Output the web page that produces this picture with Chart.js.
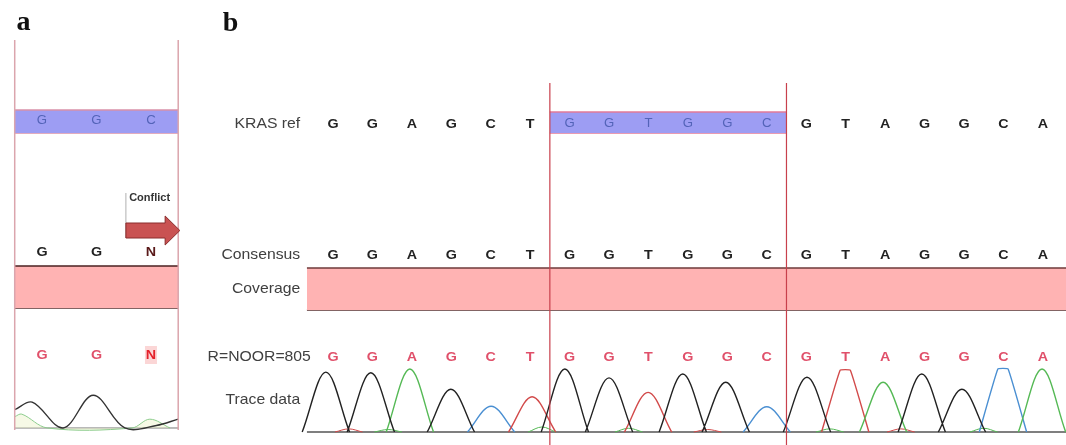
<!DOCTYPE html>
<html>
<head>
<meta charset="utf-8">
<script src="https://cdn.jsdelivr.net/npm/chart.js@4"></script>
<style>
  html, body { margin: 0; padding: 0; background: #fff; }
  #wrap { width: 1066px; height: 445px; }
</style>
</head>
<body>
<div id="wrap"><canvas id="chart" width="1066" height="445"></canvas></div>
<script>
// panel a: the three bases around the conflict
const refSeqA = ['G', 'G', 'C'];
const consSeqA = ['G', 'G', 'N'];
const readSeqA = ['G', 'G', 'N'];

// panel b: KRAS stretch, codons 12/13 boxed
const refSeqB = ['G','G','A','G','C','T','G','G','T','G','G','C','G','T','A','G','G','C','A'];
const consSeqB = ['G','G','A','G','C','T','G','G','T','G','G','C','G','T','A','G','G','C','A'];
const readSeqB = ['G','G','A','G','C','T','G','G','T','G','G','C','G','T','A','G','G','C','A'];
const codonFirst = 6;
const codonLast = 11;

const rowLabels = ['KRAS ref', 'Consensus', 'Coverage', 'R=NOOR=805', 'Trace data'];

// trace peaks of panel b (position in bases, height in signal units)
const peakPosB = [-0.18, 0.96, 1.95, 2.99, 4.01, 5.05, 5.88, 7.0, 7.99, 8.87, 9.96, 11.0, 12.02, 12.99, 13.95, 14.93, 15.95, 16.99, 17.98];
const peakHeightB = [95, 94, 100, 68, 41, 56, 100, 86, 63, 92, 79, 40, 87, 98, 79, 92, 68, 100, 100];
const flatTopB = [13, 17]; // clipped peaks

// small background humps of panel b
const noisePosB = [0.4, 1.4, 5.3, 7.5, 9.5, 12.6, 14.4, 16.5];
const noiseHeightB = [5, 4, 8, 6, 4, 5, 5, 6];
const noiseBaseB = ['T', 'A', 'A', 'A', 'T', 'A', 'T', 'A'];

// panel a traces
const traceAx = [-0.5, -0.18, 0.39, 0.94, 1.52, 2.1, 2.5];
const traceAy = [29, 41, 0, 52, 0, 4, 14];
const greenAx = [-0.5, -0.37, 0.1, 1.65, 1.98, 2.35];
const greenAy = [18, 22, 0, 0, 14, 0];

const baseColors = { G: '#222222', A: '#55b955', T: '#d24a4a', C: '#4a8fd2' };

// layout of the tracks (row axis runs top to bottom)
const layout = {
  refA: 121, refTopA: 110, refBotA: 133,
  consA: 252, covTopA: 266, covBotA: 308,
  readA: 355, frameTopA: 40, frameBotA: 430,
  refB: 124, refTopB: 112, refBotB: 133,
  consB: 255, covTopB: 268, covBotB: 310, covLeftB: -0.66,
  readB: 357, traceLbl: 400, lineTopB: 83, lineBotB: 445,
  labelX: -0.83, readLabelX: -0.56
};

const FONT = '"Liberation Sans", Arial, sans-serif';

function pts(xs, ys) { return xs.map((x, i) => ({ x: x, y: ys[i] })); }

function peakPoints(indices, flat) {
  const out = [];
  indices.forEach(i => {
    const p = peakPosB[i], h = peakHeightB[i];
    out.push({ x: p - 0.6, y: 0 });
    if (flat) {
      out.push({ x: p - 0.13, y: h });
      out.push({ x: p + 0.13, y: h });
    } else {
      out.push({ x: p, y: h });
    }
    out.push({ x: p + 0.6, y: 0 });
    out.push({ x: p + 0.6, y: null });
  });
  return out;
}

function noisePoints(base) {
  const out = [];
  noisePosB.forEach((p, i) => {
    if (noiseBaseB[i] !== base) return;
    out.push({ x: p - 0.35, y: 0 }, { x: p, y: noiseHeightB[i] }, { x: p + 0.35, y: 0 }, { x: p + 0.35, y: null });
  });
  return out;
}

const datasets = [];

function addLine(data, xId, yId, color, width, extra) {
  datasets.push(Object.assign({
    type: 'line', data: data, xAxisID: xId, yAxisID: yId,
    borderColor: color, borderWidth: width, pointRadius: 0,
    fill: false, tension: 0, order: 1
  }, extra || {}));
}

// panel b traces
['G', 'A', 'T', 'C'].forEach(b => {
  const normal = [], flat = [];
  readSeqB.forEach((s, i) => {
    if (s !== b) return;
    (flatTopB.includes(i) ? flat : normal).push(i);
  });
  addLine(peakPoints(normal, false), 'xb', 'sigB', baseColors[b], 1.4, { tension: 0.35 });
  if (flat.length) addLine(peakPoints(flat, true), 'xb', 'sigB', baseColors[b], 1.4, { tension: 0.1 });
  addLine(noisePoints(b), 'xb', 'sigB', baseColors[b], 1, { tension: 0.35, order: 2 });
});
addLine(pts([layout.covLeftB, 18.6], [0, 0]), 'xb', 'sigB', '#555', 1.3, { order: 3 });

// panel a traces
addLine(pts(traceAx, traceAy), 'xa', 'sigA', '#333', 1.4, { tension: 0.35 });
addLine(pts(greenAx, greenAy), 'xa', 'sigA', '#8ccc8c', 1, { tension: 0.35, fill: 'origin', backgroundColor: 'rgba(235,242,200,0.45)', order: 2 });
addLine(pts([-0.5, 2.5], [0, 0]), 'xa', 'sigA', '#777', 1, { order: 3 });

// vertical codon lines
[codonFirst - 0.5, codonLast + 0.5].forEach(x => {
  addLine(pts([x, x], [layout.lineTopB, layout.lineBotB]), 'xb', 'row', '#c8404c', 1.2, { order: 0 });
});
[-0.5, 2.5].forEach(x => {
  addLine(pts([x, x], [layout.frameTopA, layout.frameBotA]), 'xa', 'row', '#dba5ad', 1.5, { order: 0 });
});

// bands: top edge filled down to bottom edge
function addBand(xId, x0, x1, top, bot, fillCol, edgeTop, edgeBot, w) {
  addLine(pts([x0, x1], [top, top]), xId, 'row', edgeTop, w, { fill: '+1', backgroundColor: fillCol, order: 5 });
  addLine(pts([x0, x1], [bot, bot]), xId, 'row', edgeBot, w, { order: 5 });
}
addBand('xb', codonFirst - 0.5, codonLast + 0.5, layout.refTopB, layout.refBotB, '#9d9df3', '#e27a98', '#e27a98', 1.5);
addBand('xa', -0.5, 2.5, layout.refTopA, layout.refBotA, '#9d9df3', '#d890a8', '#d890a8', 1.5);
addBand('xb', layout.covLeftB, 18.7, layout.covTopB, layout.covBotB, '#ffb3b3', '#6e3a3a', '#5a3030', 1.5);
addBand('xa', -0.5, 2.5, layout.covTopA, layout.covBotA, '#ffb3b3', '#4a2020', '#5a3030', 1.5);

// text with a small horizontal stretch, the source image is a bit wide
function drawText(ctx, t, x, y, sx) {
  ctx.save();
  ctx.translate(x, y);
  ctx.scale(sx, 1);
  ctx.fillText(t, 0, 0);
  ctx.restore();
}

const textPlugin = {
  id: 'seqText',
  afterDatasetsDraw(chart) {
    const { ctx, scales } = chart;
    const xa = scales.xa, xb = scales.xb, row = scales.row;
    const py = v => row.getPixelForValue(v);
    ctx.save();
    ctx.textBaseline = 'middle';
    ctx.textAlign = 'center';

    // panel b letters
    refSeqB.forEach((s, i) => {
      const inBox = i >= codonFirst && i <= codonLast;
      ctx.font = inBox ? '12px ' + FONT : 'bold 13px ' + FONT;
      ctx.fillStyle = inBox ? '#5363b8' : '#222';
      drawText(ctx, s, xb.getPixelForValue(i), py(layout.refB), 1.1);
    });
    ctx.font = 'bold 13px ' + FONT;
    consSeqB.forEach((s, i) => {
      ctx.fillStyle = '#222';
      drawText(ctx, s, xb.getPixelForValue(i), py(layout.consB), 1.1);
    });
    readSeqB.forEach((s, i) => {
      ctx.fillStyle = '#e0506a';
      drawText(ctx, s, xb.getPixelForValue(i), py(layout.readB), 1.1);
    });

    // panel a letters
    ctx.font = '12px ' + FONT;
    refSeqA.forEach((s, i) => {
      ctx.fillStyle = '#5363b8';
      drawText(ctx, s, xa.getPixelForValue(i), py(layout.refA), 1.1);
    });
    ctx.font = 'bold 13px ' + FONT;
    consSeqA.forEach((s, i) => {
      ctx.fillStyle = s === 'N' ? '#5a1a1a' : '#222';
      drawText(ctx, s, xa.getPixelForValue(i), py(layout.consA), 1.1);
    });
    readSeqA.forEach((s, i) => {
      const x = xa.getPixelForValue(i), y = py(layout.readA);
      if (s === 'N') {
        ctx.fillStyle = '#fbd6d6';
        ctx.fillRect(x - 6, y - 9, 12, 18);
        ctx.fillStyle = '#e4222c';
      } else {
        ctx.fillStyle = '#e0506a';
      }
      drawText(ctx, s, x, y, 1.1);
    });

    // row labels
    ctx.textAlign = 'right';
    ctx.font = '15px ' + FONT;
    ctx.fillStyle = '#404040';
    const rowYs = [layout.refB, layout.consB, (layout.covTopB + layout.covBotB) / 2, layout.readB, layout.traceLbl];
    rowLabels.forEach((t, i) => {
      const x = xb.getPixelForValue(i === 3 ? layout.readLabelX : layout.labelX);
      drawText(ctx, t, x, py(rowYs[i]), 1.05);
    });

    // conflict marker in panel a
    const ax0 = xa.getPixelForValue(1.54), axh = xa.getPixelForValue(2.26), axt = xa.getPixelForValue(2.53);
    ctx.strokeStyle = '#b0b0b0';
    ctx.lineWidth = 1;
    ctx.beginPath();
    ctx.moveTo(ax0, py(193));
    ctx.lineTo(ax0, py(238));
    ctx.stroke();
    ctx.beginPath();
    ctx.moveTo(ax0, py(223));
    ctx.lineTo(axh, py(223));
    ctx.lineTo(axh, py(216));
    ctx.lineTo(axt, py(230.5));
    ctx.lineTo(axh, py(245));
    ctx.lineTo(axh, py(238));
    ctx.lineTo(ax0, py(238));
    ctx.closePath();
    ctx.fillStyle = '#c95252';
    ctx.fill();
    ctx.strokeStyle = '#8a2c2c';
    ctx.stroke();
    ctx.textAlign = 'left';
    ctx.font = 'bold 11px ' + FONT;
    ctx.fillStyle = '#333';
    ctx.fillText('Conflict', xa.getPixelForValue(1.6), py(198));

    // panel letters
    ctx.textAlign = 'center';
    ctx.textBaseline = 'alphabetic';
    ctx.font = 'bold 28px "Liberation Serif", "Times New Roman", serif';
    ctx.fillStyle = '#111';
    ctx.fillText('a', xa.getPixelForValue(-0.34), py(30));
    ctx.fillText('b', xb.getPixelForValue(-2.6), py(31));
    ctx.restore();
  }
};

new Chart(document.getElementById('chart').getContext('2d'), {
  type: 'line',
  data: { datasets: datasets },
  options: {
    responsive: false,
    animation: false,
    layout: { padding: 0 },
    plugins: { legend: { display: false }, tooltip: { enabled: false } },
    scales: {
      xa: { type: 'linear', axis: 'x', position: 'bottom', min: -0.77, max: 18.79, display: false },
      xb: { type: 'linear', axis: 'x', position: 'bottom', min: -8.443, max: 18.588, display: false },
      row: { type: 'linear', axis: 'y', position: 'left', min: 0, max: 445, reverse: true, display: false },
      sigA: { type: 'linear', axis: 'y', position: 'left', min: -27, max: 679.4, display: false },
      sigB: { type: 'linear', axis: 'y', position: 'left', min: -20.6, max: 685.7, display: false }
    }
  },
  plugins: [textPlugin]
});
</script>
</body>
</html>
